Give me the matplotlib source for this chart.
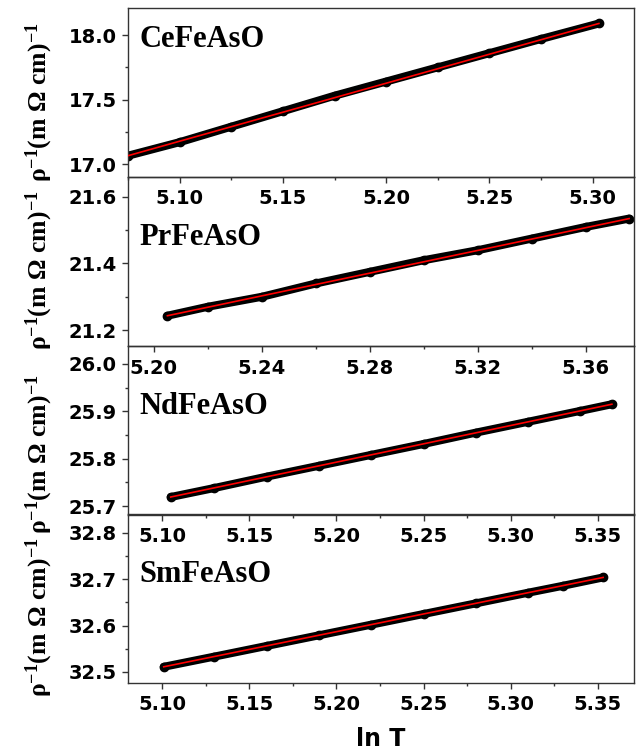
import numpy as np
import matplotlib
matplotlib.use("Agg")
import matplotlib.pyplot as plt
from matplotlib.ticker import MultipleLocator, AutoMinorLocator

plt.rcParams['font.family'] = ['DejaVu Sans']
plt.rcParams['font.weight'] = 'bold'
plt.rcParams['mathtext.fontset'] = 'custom'
plt.rcParams['mathtext.rm'] = 'Liberation Serif:bold'
plt.rcParams['mathtext.it'] = 'Liberation Serif:bold'
plt.rcParams['mathtext.bf'] = 'Liberation Serif:bold'

names = ['CeFeAsO', 'PrFeAsO', 'NdFeAsO', 'SmFeAsO']

# ln T and 1/rho
ce_lnT = [5.075, 5.100, 5.125, 5.150, 5.175, 5.200, 5.225, 5.250, 5.275, 5.303]
ce_inv = [17.065, 17.17, 17.29, 17.41, 17.53, 17.64, 17.75, 17.86, 17.97, 18.09]

pr_lnT = [5.205, 5.220, 5.240, 5.260, 5.280, 5.300, 5.320, 5.340, 5.360, 5.376]
pr_inv = [21.243, 21.27, 21.30, 21.34, 21.375, 21.41, 21.44, 21.475, 21.51, 21.535]

nd_lnT = [5.105, 5.130, 5.160, 5.190, 5.220, 5.250, 5.280, 5.310, 5.340, 5.358]
nd_inv = [25.719, 25.738, 25.762, 25.785, 25.808, 25.831, 25.855, 25.878, 25.901, 25.915]

sm_lnT = [5.101, 5.130, 5.160, 5.190, 5.220, 5.250, 5.280, 5.310, 5.330, 5.353]
sm_inv = [32.511, 32.533, 32.556, 32.579, 32.602, 32.625, 32.648, 32.671, 32.686, 32.704]

# red linear fits (end points)
ce_fit = ([5.075, 5.303], [17.065, 18.09])
pr_fit = ([5.205, 5.376], [21.243, 21.535])
nd_fit = ([5.105, 5.358], [25.719, 25.915])
sm_fit = ([5.101, 5.353], [32.511, 32.704])

series = [(ce_lnT, ce_inv, ce_fit), (pr_lnT, pr_inv, pr_fit),
          (nd_lnT, nd_inv, nd_fit), (sm_lnT, sm_inv, sm_fit)]

xlims = [(5.075, 5.320), (5.1904, 5.3778), (5.0805, 5.3707), (5.0805, 5.3707)]
ylims = [(16.90, 18.21), (21.152, 21.66), (25.681, 26.038), (32.476, 32.841)]
xsteps = [0.05, 0.04, 0.05, 0.05]
ysteps = [0.5, 0.2, 0.1, 0.1]
label_y = [0.769, 0.60, 0.60, 0.60]
ylab_y = [0.44, 0.45, 0.36, 0.39]

fig = plt.figure(figsize=(6.36, 7.56), dpi=100)
left, width = 128 / 636, 506 / 636
tops = [8, 177, 346, 514]
h = 169

for i, (x, y, fit) in enumerate(series):
    bottom = 1 - (tops[i] + h) / 756
    ax = fig.add_axes([left, bottom, width, h / 756])
    ax.patch.set_visible(False)
    ax.plot(x, y, color='black', lw=5.8, solid_capstyle='round',
            marker='o', ms=6.0, zorder=2)
    ax.plot(fit[0], fit[1], color='red', lw=1.2, zorder=3)
    ax.set_xlim(*xlims[i])
    ax.set_ylim(*ylims[i])
    ax.xaxis.set_major_locator(MultipleLocator(xsteps[i]))
    ax.yaxis.set_major_locator(MultipleLocator(ysteps[i]))
    ax.xaxis.set_minor_locator(AutoMinorLocator(2))
    ax.yaxis.set_minor_locator(AutoMinorLocator(2))
    ax.xaxis.set_major_formatter(plt.FormatStrFormatter('%.2f'))
    ax.yaxis.set_major_formatter(plt.FormatStrFormatter('%.1f'))
    ax.tick_params(which='major', direction='out', length=4, width=1,
                   color='#333333', pad=4, labelsize=14)
    ax.tick_params(which='minor', direction='out', length=2.5, width=1,
                   color='#333333')
    ax.tick_params(axis='x', which='major', pad=5)
    for sp in ax.spines.values():
        sp.set_color('#333333')
        sp.set_linewidth(1.0)
    ax.text(0.022, label_y[i], names[i], transform=ax.transAxes,
            fontfamily='Liberation Serif', fontweight='bold', fontsize=22,
            va='baseline', ha='left')
    ax.set_ylabel('ρ$^{-1}$(m Ω cm)$^{-1}$', fontfamily='Liberation Serif',
                  fontweight='bold', fontsize=18.5)
    ax.yaxis.set_label_coords(-0.145, ylab_y[i])
    if i == 3:
        ax.set_xlabel('ln T', fontfamily='DejaVu Sans', fontweight='bold',
                      fontsize=17, labelpad=9)

fig.savefig('out.png', dpi=100, facecolor='white')
